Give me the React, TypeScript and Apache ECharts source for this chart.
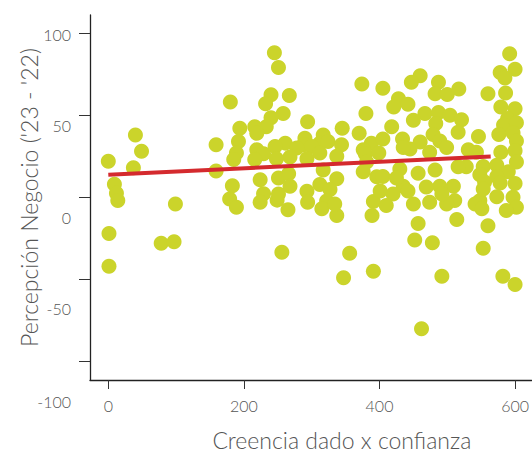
import React, { useEffect, useRef } from "react";
import * as echarts from "echarts";

// Creencia dado x confianza (x) and Percepción Negocio ('23 - '22) (y)
const creencia: number[] = [
  0, 40, 49, 37, 9, 12, 14, 1, 1, 99, 78, 97,
  159, 159, 180, 194, 192, 189, 185, 183, 179, 189,
  245, 251, 240, 267, 232, 258, 240, 294, 216, 233, 219,
  374, 380, 345, 370, 317, 290, 261, 246, 219, 288, 312, 324, 344, 388, 376, 278, 300,
  229, 312, 337, 268, 216, 248, 293, 379, 381, 399, 376, 396, 224, 251, 266, 317, 337,
  229, 268, 293, 312, 327, 391, 224, 249, 294, 322, 337, 389, 265, 315, 334, 251,
  256, 356, 347, 391,
  405, 460, 447, 487, 482, 500, 517, 560, 586, 592, 600, 578, 585, 428, 442, 421, 579, 600,
  467, 487, 504, 450, 521, 483, 418, 589, 583, 602, 516, 479, 546, 576, 597, 405, 434, 460,
  489, 602, 445, 499, 531, 579, 600, 602, 474, 543, 435, 553, 573, 590, 528, 516, 482, 457,
  430, 405, 548, 573, 555, 578, 600, 509, 489, 469, 435, 420, 401, 573, 548, 597, 602, 587,
  541, 551, 511, 499, 474, 450, 410, 442, 492, 425, 457, 514, 560, 452, 478, 553, 492, 582,
  600, 462, 553,
];
const percepcion: number[] = [
  22, 38, 28, 18, 8, 2.5, -2, -22, -42, -4, -28, -27,
  32, 16, 58, 42, 34, 27, 23, 7, -1, -6,
  88, 79, 62.5, 62, 57, 51, 48.5, 46, 43, 43, 39,
  69, 51, 42, 39, 38, 36, 33, 31, 29, 32, 33, 34, 32, 33, 29, 30, 31,
  26.5, 27, 25, 24.5, 23, 23.5, 23.5, 26.5, 21.5, 27, 15.6, 12.5, 10.7, 11.7, 14.3, 16.6, 11.3,
  2.2, 6.8, 3.7, 7.8, 4.8, -2.5, -3, -1.7, -3, -2.2, -11, -11, -7.6, -7, -4, 2,
  -33.5, -34, -49, -45,
  66.4, 74, 70, 70, 63, 62.6, 66, 63, 63.5, 87.4, 78, 76, 72.7, 60, 56.6, 55, 55, 54,
  51, 51.7, 50, 47, 47.3, 45, 43, 48, 44, 45.4, 39.6, 38.3, 37, 38.3, 39.2, 35.5, 35.5, 33.7,
  34.3, 34.3, 29.4, 30.4, 29, 27.4, 28.4, 21.5, 27.4, 27.4, 30.4, 18.7, 19.6, 15.6, 18.6, 18.6, 16.6, 14.7,
  17.2, 12.7, 13.7, 12.7, 9.3, 8.8, 8.4, 6.8, 6.8, 6.3, 6.8, 2, 3.8, 0.4, -2, 0, -6, -8,
  -4, -7, -2, -4, -3, -4, -5, 3.8, 2, 11.7, -16, -13.5, -17.3, -26, -27.6, -31, -48, -48,
  -53, -80, 5,
];

// Linear fit (red line)
const fitX: number[] = [0, 564];
const fitY: number[] = [13.7, 24.9];

const xTicks: number[] = [0, 200, 400, 600];
const yTicks: number[] = [-100, -50, 0, 50, 100];
// vertical drift of y tick labels (px) as seen in the reference
const yLabelDrift: number[] = [39.5, 29.5, 19.8, 10.5, 1.3];

const xTitle = "Creencia dado x confianza";
const yTitle = "Percepción Negocio ('23 - '22)";

export default function App() {
  const ref = useRef<HTMLDivElement>(null);
  useEffect(() => {
    if (!ref.current) return;
    const chart = echarts.init(ref.current, undefined, { renderer: "svg" });
    const points = creencia.map((x, i) => [x, percepcion[i]]);
    const line = fitX.map((x, i) => [x, fitY[i]]);
    const font = "Lato, 'Open Sans', sans-serif";
    const rich: Record<string, any> = {};
    yTicks.forEach((_, k) => {
      rich["o" + k] = {
        padding: [2 * yLabelDrift[k], 0, 0, 0],
        fontFamily: font,
        fontWeight: 300,
        fontSize: 16,
        color: "#555",
      };
    });
    chart.setOption({
      animation: false,
      backgroundColor: "#fff",
      grid: { left: 90, top: 15, right: 0, bottom: 64.3, containLabel: false },
      xAxis: {
        type: "value",
        min: -27,
        max: 624.6,
        name: xTitle,
        nameLocation: "middle",
        nameGap: 48,
        nameMoveOverlap: false,
        nameTextStyle: {
          fontFamily: font,
          fontWeight: 300,
          fontSize: 23,
          color: "#555",
          padding: [0, 0, 0, 62],
        },
        axisLine: { show: true, onZero: false, lineStyle: { color: "#222", width: 1.3 } },
        axisTick: { show: true, length: 9, customValues: xTicks, lineStyle: { color: "#333", width: 1 } },
        axisLabel: {
          customValues: xTicks,
          margin: 17,
          fontFamily: font,
          fontWeight: 300,
          fontSize: 16,
          color: "#555",
        },
        splitLine: { show: false },
      },
      yAxis: {
        type: "value",
        min: -111.2,
        max: 111,
        name: yTitle,
        nameLocation: "middle",
        nameGap: 50,
        nameRotate: 90,
        nameMoveOverlap: false,
        nameTextStyle: { fontFamily: font, fontWeight: 300, fontSize: 23, color: "#555" },
        axisLine: { show: true, onZero: false, lineStyle: { color: "#222", width: 1.3 } },
        axisTick: { show: true, length: 11, customValues: yTicks, lineStyle: { color: "#333", width: 1 } },
        axisLabel: {
          customValues: yTicks,
          margin: 19,
          formatter: (v: number) => {
            const k = yTicks.indexOf(Math.round(v));
            return k >= 0 ? `{o${k}|${v}}` : String(v);
          },
          rich,
          fontFamily: font,
          fontWeight: 300,
          fontSize: 16,
          color: "#555",
        },
        splitLine: { show: false },
      },
      series: [
        {
          type: "scatter",
          data: points,
          symbolSize: 15,
          itemStyle: { color: "#cbd42b", opacity: 1 },
          z: 2,
        },
        {
          type: "line",
          data: line,
          showSymbol: false,
          symbol: "none",
          lineStyle: { color: "#d42a2e", width: 4 },
          z: 3,
        },
      ],
    });
    return () => chart.dispose();
  }, []);
  return (
    <div
      ref={ref}
      style={{ position: "fixed", left: 0, top: 0, width: 532, height: 456 }}
    />
  );
}
